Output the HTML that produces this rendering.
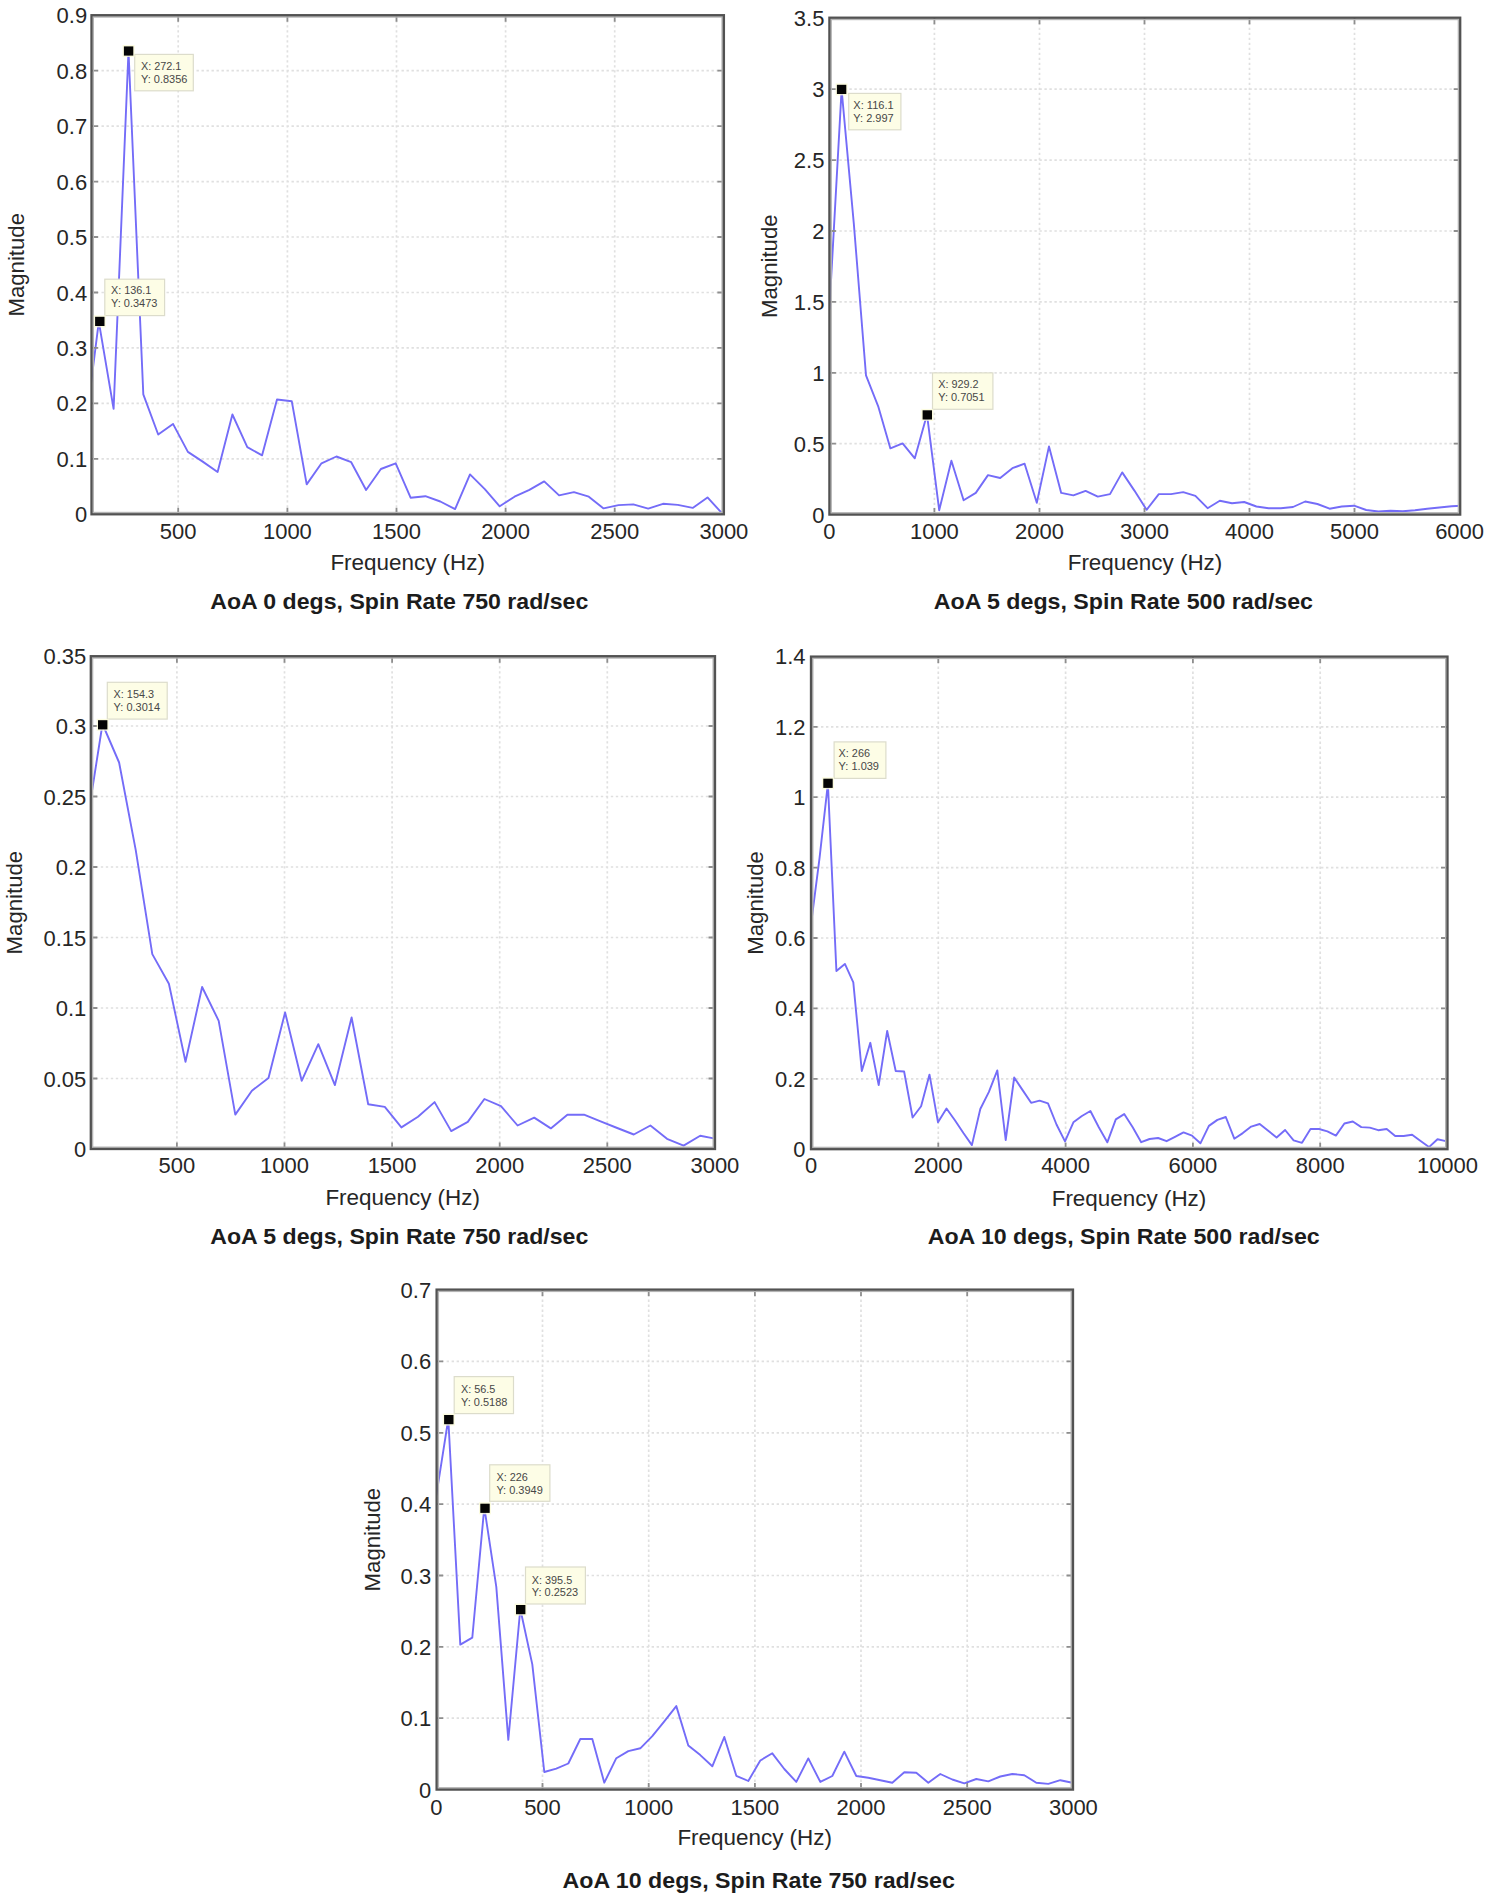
<!DOCTYPE html>
<html lang="en"><head><meta charset="utf-8"><title>FFT magnitude plots</title>
<style>html,body{margin:0;padding:0;background:#fff}body{width:1491px;height:1900px;overflow:hidden}svg{display:block;font-family:"Liberation Sans",Arial,Helvetica,sans-serif}</style></head><body>
<svg width="1491" height="1900" viewBox="0 0 1491 1900" fill="#262626">
<rect width="1491" height="1900" fill="#fff"/>
<g id="chart1">
<clipPath id="cp1"><rect x="91.5" y="15.2" width="632.4" height="499.1"/></clipPath>
<path d="M178.2 15.2V514.3M287.4 15.2V514.3M396.5 15.2V514.3M505.6 15.2V514.3M614.7 15.2V514.3M91.5 458.8H723.9M91.5 403.4H723.9M91.5 347.9H723.9M91.5 292.5H723.9M91.5 237.0H723.9M91.5 181.6H723.9M91.5 126.1H723.9M91.5 70.7H723.9" fill="none" stroke="#e0e0e0" stroke-width="1.7" stroke-dasharray="2.4 2.6"/>
<polyline points="83.9,440.0 98.8,321.7 113.6,408.9 128.5,51.0 143.3,394.3 158.2,434.5 173.0,423.9 187.9,451.9 202.7,461.6 217.6,472.0 232.4,414.5 247.3,447.2 262.1,455.3 277.0,399.5 291.8,401.3 306.7,484.4 321.5,463.3 336.4,456.5 351.2,462.2 366.1,490.0 380.9,469.0 395.7,463.3 410.6,497.7 425.4,496.2 440.3,501.5 455.1,509.1 470.0,474.4 484.8,489.2 499.7,506.3 514.5,496.7 529.4,489.9 544.2,481.4 559.1,495.4 573.9,492.1 588.8,496.7 603.6,508.4 618.5,505.1 633.3,504.4 648.2,508.6 663.0,503.8 677.8,504.9 692.7,507.9 707.5,497.4 722.4,513.7" fill="none" stroke="#746cf8" stroke-width="1.9" stroke-linejoin="round" clip-path="url(#cp1)"/>
<path d="M178.2 514.3v-6.5M178.2 15.2v6.5M287.4 514.3v-6.5M287.4 15.2v6.5M396.5 514.3v-6.5M396.5 15.2v6.5M505.6 514.3v-6.5M505.6 15.2v6.5M614.7 514.3v-6.5M614.7 15.2v6.5M91.5 458.8h6.5M723.9 458.8h-6.5M91.5 403.4h6.5M723.9 403.4h-6.5M91.5 347.9h6.5M723.9 347.9h-6.5M91.5 292.5h6.5M723.9 292.5h-6.5M91.5 237.0h6.5M723.9 237.0h-6.5M91.5 181.6h6.5M723.9 181.6h-6.5M91.5 126.1h6.5M723.9 126.1h-6.5M91.5 70.7h6.5M723.9 70.7h-6.5" fill="none" stroke="#8e8e8e" stroke-width="1.8"/>
<rect x="93.2" y="16.9" width="629.0" height="495.7" fill="none" stroke="#b4b4b4" stroke-width="1.6"/>
<rect x="91.5" y="15.2" width="632.4" height="499.1" fill="none" stroke="#525252" stroke-width="2.3"/>
<text x="178.2" y="538.5" font-size="22.0" text-anchor="middle" textLength="36.7" lengthAdjust="spacingAndGlyphs">500</text>
<text x="287.4" y="538.5" font-size="22.0" text-anchor="middle" textLength="48.9" lengthAdjust="spacingAndGlyphs">1000</text>
<text x="396.5" y="538.5" font-size="22.0" text-anchor="middle" textLength="48.9" lengthAdjust="spacingAndGlyphs">1500</text>
<text x="505.6" y="538.5" font-size="22.0" text-anchor="middle" textLength="48.9" lengthAdjust="spacingAndGlyphs">2000</text>
<text x="614.7" y="538.5" font-size="22.0" text-anchor="middle" textLength="48.9" lengthAdjust="spacingAndGlyphs">2500</text>
<text x="723.9" y="538.5" font-size="22.0" text-anchor="middle" textLength="48.9" lengthAdjust="spacingAndGlyphs">3000</text>
<text x="87.2" y="522.3" font-size="22.0" text-anchor="end" textLength="12.2" lengthAdjust="spacingAndGlyphs">0</text>
<text x="87.2" y="466.8" font-size="22.0" text-anchor="end" textLength="30.6" lengthAdjust="spacingAndGlyphs">0.1</text>
<text x="87.2" y="411.4" font-size="22.0" text-anchor="end" textLength="30.6" lengthAdjust="spacingAndGlyphs">0.2</text>
<text x="87.2" y="355.9" font-size="22.0" text-anchor="end" textLength="30.6" lengthAdjust="spacingAndGlyphs">0.3</text>
<text x="87.2" y="300.5" font-size="22.0" text-anchor="end" textLength="30.6" lengthAdjust="spacingAndGlyphs">0.4</text>
<text x="87.2" y="245.0" font-size="22.0" text-anchor="end" textLength="30.6" lengthAdjust="spacingAndGlyphs">0.5</text>
<text x="87.2" y="189.6" font-size="22.0" text-anchor="end" textLength="30.6" lengthAdjust="spacingAndGlyphs">0.6</text>
<text x="87.2" y="134.1" font-size="22.0" text-anchor="end" textLength="30.6" lengthAdjust="spacingAndGlyphs">0.7</text>
<text x="87.2" y="78.7" font-size="22.0" text-anchor="end" textLength="30.6" lengthAdjust="spacingAndGlyphs">0.8</text>
<text x="87.2" y="23.2" font-size="22.0" text-anchor="end" textLength="30.6" lengthAdjust="spacingAndGlyphs">0.9</text>
<text x="407.7" y="569.6" font-size="21.2" text-anchor="middle" textLength="154.6" lengthAdjust="spacingAndGlyphs">Frequency (Hz)</text>
<text transform="translate(23.7 264.8) rotate(-90)" font-size="22" text-anchor="middle" textLength="103.6" lengthAdjust="spacingAndGlyphs">Magnitude</text>
<rect x="134.7" y="54.4" width="58.6" height="36.4" fill="#fdfde6" stroke="#dcdccb" stroke-width="1.2"/>
<text x="141.0" y="70.0" font-size="10.8" textLength="40.4" lengthAdjust="spacingAndGlyphs" fill="#474747">X: 272.1</text>
<text x="141.0" y="82.8" font-size="10.8" textLength="46.4" lengthAdjust="spacingAndGlyphs" fill="#474747">Y: 0.8356</text>
<rect x="122.6" y="45.0" width="12" height="12" fill="#fbfbd8" opacity="0.8"/>
<rect x="123.9" y="46.4" width="9.4" height="9.2" fill="#050505"/>
<rect x="104.8" y="279.2" width="59.8" height="36.4" fill="#fdfde6" stroke="#dcdccb" stroke-width="1.2"/>
<text x="111.0" y="294.1" font-size="10.8" textLength="40.4" lengthAdjust="spacingAndGlyphs" fill="#474747">X: 136.1</text>
<text x="111.0" y="307.0" font-size="10.8" textLength="46.4" lengthAdjust="spacingAndGlyphs" fill="#474747">Y: 0.3473</text>
<rect x="93.8" y="315.4" width="12" height="12" fill="#fbfbd8" opacity="0.8"/>
<rect x="95.1" y="316.8" width="9.4" height="9.2" fill="#050505"/>
<text x="210.3" y="609.2" font-size="22.3" font-weight="bold" textLength="378.0" lengthAdjust="spacingAndGlyphs" fill="#1c1c1c">AoA 0 degs, Spin Rate 750 rad/sec</text>
</g>
<g id="chart2">
<clipPath id="cp2"><rect x="829.4" y="17.7" width="630.8" height="496.9"/></clipPath>
<path d="M934.4 17.7V514.6M1039.5 17.7V514.6M1144.5 17.7V514.6M1249.5 17.7V514.6M1354.5 17.7V514.6M829.4 443.7H1460.2M829.4 372.8H1460.2M829.4 301.9H1460.2M829.4 231.0H1460.2M829.4 160.1H1460.2M829.4 89.2H1460.2" fill="none" stroke="#e0e0e0" stroke-width="1.7" stroke-dasharray="2.4 2.6"/>
<polyline points="829.4,309.8 841.6,89.6 853.8,223.3 866.0,375.4 878.2,406.3 890.4,448.4 902.6,443.4 914.8,458.3 927.0,414.6 939.2,510.2 951.4,460.7 963.6,500.3 975.8,492.9 988.0,475.1 1000.2,478.0 1012.4,468.2 1024.6,463.7 1036.8,502.8 1049.0,446.4 1061.2,492.9 1073.4,495.4 1085.6,490.9 1097.8,496.6 1110.0,494.1 1122.2,472.4 1134.4,490.6 1146.6,509.8 1158.8,494.1 1171.0,494.1 1183.2,492.1 1195.4,495.8 1207.6,508.2 1219.8,500.8 1232.0,503.3 1244.2,502.0 1256.4,506.5 1268.6,508.2 1280.8,508.2 1293.0,507.0 1305.2,501.5 1317.4,504.0 1329.6,508.7 1341.8,506.5 1354.0,505.7 1366.2,510.0 1378.4,511.5 1390.6,510.7 1402.8,511.2 1415.0,510.2 1427.2,508.7 1439.4,507.5 1451.6,506.2 1463.8,505.6" fill="none" stroke="#746cf8" stroke-width="1.9" stroke-linejoin="round" clip-path="url(#cp2)"/>
<path d="M934.4 514.6v-6.5M934.4 17.7v6.5M1039.5 514.6v-6.5M1039.5 17.7v6.5M1144.5 514.6v-6.5M1144.5 17.7v6.5M1249.5 514.6v-6.5M1249.5 17.7v6.5M1354.5 514.6v-6.5M1354.5 17.7v6.5M829.4 443.7h6.5M1460.2 443.7h-6.5M829.4 372.8h6.5M1460.2 372.8h-6.5M829.4 301.9h6.5M1460.2 301.9h-6.5M829.4 231.0h6.5M1460.2 231.0h-6.5M829.4 160.1h6.5M1460.2 160.1h-6.5M829.4 89.2h6.5M1460.2 89.2h-6.5" fill="none" stroke="#8e8e8e" stroke-width="1.8"/>
<rect x="831.1" y="19.4" width="627.4" height="493.5" fill="none" stroke="#b4b4b4" stroke-width="1.6"/>
<rect x="829.4" y="17.7" width="630.8" height="496.9" fill="none" stroke="#525252" stroke-width="2.3"/>
<text x="829.4" y="539.0" font-size="22.0" text-anchor="middle" textLength="12.2" lengthAdjust="spacingAndGlyphs">0</text>
<text x="934.4" y="539.0" font-size="22.0" text-anchor="middle" textLength="48.9" lengthAdjust="spacingAndGlyphs">1000</text>
<text x="1039.5" y="539.0" font-size="22.0" text-anchor="middle" textLength="48.9" lengthAdjust="spacingAndGlyphs">2000</text>
<text x="1144.5" y="539.0" font-size="22.0" text-anchor="middle" textLength="48.9" lengthAdjust="spacingAndGlyphs">3000</text>
<text x="1249.5" y="539.0" font-size="22.0" text-anchor="middle" textLength="48.9" lengthAdjust="spacingAndGlyphs">4000</text>
<text x="1354.5" y="539.0" font-size="22.0" text-anchor="middle" textLength="48.9" lengthAdjust="spacingAndGlyphs">5000</text>
<text x="1459.6" y="539.0" font-size="22.0" text-anchor="middle" textLength="48.9" lengthAdjust="spacingAndGlyphs">6000</text>
<text x="824.4" y="522.6" font-size="22.0" text-anchor="end" textLength="12.2" lengthAdjust="spacingAndGlyphs">0</text>
<text x="824.4" y="451.7" font-size="22.0" text-anchor="end" textLength="30.6" lengthAdjust="spacingAndGlyphs">0.5</text>
<text x="824.4" y="380.8" font-size="22.0" text-anchor="end" textLength="12.2" lengthAdjust="spacingAndGlyphs">1</text>
<text x="824.4" y="309.9" font-size="22.0" text-anchor="end" textLength="30.6" lengthAdjust="spacingAndGlyphs">1.5</text>
<text x="824.4" y="239.0" font-size="22.0" text-anchor="end" textLength="12.2" lengthAdjust="spacingAndGlyphs">2</text>
<text x="824.4" y="168.1" font-size="22.0" text-anchor="end" textLength="30.6" lengthAdjust="spacingAndGlyphs">2.5</text>
<text x="824.4" y="97.2" font-size="22.0" text-anchor="end" textLength="12.2" lengthAdjust="spacingAndGlyphs">3</text>
<text x="824.4" y="26.3" font-size="22.0" text-anchor="end" textLength="30.6" lengthAdjust="spacingAndGlyphs">3.5</text>
<text x="1145.0" y="570.1" font-size="21.2" text-anchor="middle" textLength="154.6" lengthAdjust="spacingAndGlyphs">Frequency (Hz)</text>
<text transform="translate(776.5 266.2) rotate(-90)" font-size="22" text-anchor="middle" textLength="103.6" lengthAdjust="spacingAndGlyphs">Magnitude</text>
<rect x="848.7" y="93.4" width="52.2" height="36.4" fill="#fdfde6" stroke="#dcdccb" stroke-width="1.2"/>
<text x="853.3" y="108.9" font-size="10.8" textLength="40.4" lengthAdjust="spacingAndGlyphs" fill="#474747">X: 116.1</text>
<text x="853.3" y="121.6" font-size="10.8" textLength="40.4" lengthAdjust="spacingAndGlyphs" fill="#474747">Y: 2.997</text>
<rect x="835.6" y="83.4" width="12" height="12" fill="#fbfbd8" opacity="0.8"/>
<rect x="836.9" y="84.8" width="9.4" height="9.2" fill="#050505"/>
<rect x="932.5" y="372.9" width="60.4" height="36.4" fill="#fdfde6" stroke="#dcdccb" stroke-width="1.2"/>
<text x="938.2" y="388.0" font-size="10.8" textLength="40.4" lengthAdjust="spacingAndGlyphs" fill="#474747">X: 929.2</text>
<text x="938.2" y="400.8" font-size="10.8" textLength="46.4" lengthAdjust="spacingAndGlyphs" fill="#474747">Y: 0.7051</text>
<rect x="921.3" y="408.9" width="12" height="12" fill="#fbfbd8" opacity="0.8"/>
<rect x="922.6" y="410.3" width="9.4" height="9.2" fill="#050505"/>
<text x="933.8" y="609.2" font-size="22.3" font-weight="bold" textLength="379.2" lengthAdjust="spacingAndGlyphs" fill="#1c1c1c">AoA 5 degs, Spin Rate 500 rad/sec</text>
</g>
<g id="chart3">
<clipPath id="cp3"><rect x="90.8" y="656.2" width="624.2" height="492.8"/></clipPath>
<path d="M176.9 656.2V1149.0M284.5 656.2V1149.0M392.1 656.2V1149.0M499.7 656.2V1149.0M607.3 656.2V1149.0M90.8 1078.5H715.0M90.8 1008.0H715.0M90.8 937.5H715.0M90.8 867.0H715.0M90.8 796.5H715.0M90.8 726.0H715.0" fill="none" stroke="#e0e0e0" stroke-width="1.7" stroke-dasharray="2.4 2.6"/>
<polyline points="85.9,830.0 102.5,724.0 119.1,762.5 135.7,849.9 152.3,954.1 168.9,983.7 185.5,1061.7 202.1,987.0 218.7,1020.8 235.3,1114.6 251.9,1090.7 268.5,1078.0 285.1,1012.4 301.7,1080.8 318.3,1044.2 334.9,1085.1 351.6,1017.5 368.2,1104.2 384.8,1106.9 401.4,1127.4 418.0,1116.8 434.6,1102.1 451.2,1131.1 467.8,1121.9 484.4,1099.0 501.0,1106.2 517.6,1125.5 534.2,1117.6 550.8,1128.4 567.4,1114.7 584.0,1114.7 600.6,1121.4 617.2,1128.0 633.8,1134.5 650.4,1125.5 667.0,1138.8 683.6,1145.6 700.2,1135.7 716.8,1139.0" fill="none" stroke="#746cf8" stroke-width="1.9" stroke-linejoin="round" clip-path="url(#cp3)"/>
<path d="M176.9 1149.0v-6.5M176.9 656.2v6.5M284.5 1149.0v-6.5M284.5 656.2v6.5M392.1 1149.0v-6.5M392.1 656.2v6.5M499.7 1149.0v-6.5M499.7 656.2v6.5M607.3 1149.0v-6.5M607.3 656.2v6.5M90.8 1078.5h6.5M715.0 1078.5h-6.5M90.8 1008.0h6.5M715.0 1008.0h-6.5M90.8 937.5h6.5M715.0 937.5h-6.5M90.8 867.0h6.5M715.0 867.0h-6.5M90.8 796.5h6.5M715.0 796.5h-6.5M90.8 726.0h6.5M715.0 726.0h-6.5" fill="none" stroke="#8e8e8e" stroke-width="1.8"/>
<rect x="92.5" y="657.9" width="620.8" height="489.4" fill="none" stroke="#b4b4b4" stroke-width="1.6"/>
<rect x="90.8" y="656.2" width="624.2" height="492.8" fill="none" stroke="#525252" stroke-width="2.3"/>
<text x="176.9" y="1172.6" font-size="22.0" text-anchor="middle" textLength="36.7" lengthAdjust="spacingAndGlyphs">500</text>
<text x="284.5" y="1172.6" font-size="22.0" text-anchor="middle" textLength="48.9" lengthAdjust="spacingAndGlyphs">1000</text>
<text x="392.1" y="1172.6" font-size="22.0" text-anchor="middle" textLength="48.9" lengthAdjust="spacingAndGlyphs">1500</text>
<text x="499.7" y="1172.6" font-size="22.0" text-anchor="middle" textLength="48.9" lengthAdjust="spacingAndGlyphs">2000</text>
<text x="607.3" y="1172.6" font-size="22.0" text-anchor="middle" textLength="48.9" lengthAdjust="spacingAndGlyphs">2500</text>
<text x="714.9" y="1172.6" font-size="22.0" text-anchor="middle" textLength="48.9" lengthAdjust="spacingAndGlyphs">3000</text>
<text x="86.3" y="1157.0" font-size="22.0" text-anchor="end" textLength="12.2" lengthAdjust="spacingAndGlyphs">0</text>
<text x="86.3" y="1086.5" font-size="22.0" text-anchor="end" textLength="42.8" lengthAdjust="spacingAndGlyphs">0.05</text>
<text x="86.3" y="1016.0" font-size="22.0" text-anchor="end" textLength="30.6" lengthAdjust="spacingAndGlyphs">0.1</text>
<text x="86.3" y="945.5" font-size="22.0" text-anchor="end" textLength="42.8" lengthAdjust="spacingAndGlyphs">0.15</text>
<text x="86.3" y="875.0" font-size="22.0" text-anchor="end" textLength="30.6" lengthAdjust="spacingAndGlyphs">0.2</text>
<text x="86.3" y="804.5" font-size="22.0" text-anchor="end" textLength="42.8" lengthAdjust="spacingAndGlyphs">0.25</text>
<text x="86.3" y="734.0" font-size="22.0" text-anchor="end" textLength="30.6" lengthAdjust="spacingAndGlyphs">0.3</text>
<text x="86.3" y="663.5" font-size="22.0" text-anchor="end" textLength="42.8" lengthAdjust="spacingAndGlyphs">0.35</text>
<text x="402.7" y="1205.0" font-size="21.2" text-anchor="middle" textLength="154.6" lengthAdjust="spacingAndGlyphs">Frequency (Hz)</text>
<text transform="translate(21.5 902.6) rotate(-90)" font-size="22" text-anchor="middle" textLength="103.6" lengthAdjust="spacingAndGlyphs">Magnitude</text>
<rect x="107.3" y="682.3" width="59.9" height="36.8" fill="#fdfde6" stroke="#dcdccb" stroke-width="1.2"/>
<text x="113.6" y="697.9" font-size="10.8" textLength="40.4" lengthAdjust="spacingAndGlyphs" fill="#474747">X: 154.3</text>
<text x="113.6" y="710.7" font-size="10.8" textLength="46.4" lengthAdjust="spacingAndGlyphs" fill="#474747">Y: 0.3014</text>
<rect x="96.7" y="718.8" width="12" height="12" fill="#fbfbd8" opacity="0.8"/>
<rect x="98.0" y="720.2" width="9.4" height="9.2" fill="#050505"/>
<text x="210.3" y="1244.2" font-size="22.3" font-weight="bold" textLength="378.0" lengthAdjust="spacingAndGlyphs" fill="#1c1c1c">AoA 5 degs, Spin Rate 750 rad/sec</text>
</g>
<g id="chart4">
<clipPath id="cp4"><rect x="811.0" y="656.6" width="636.5" height="492.6"/></clipPath>
<path d="M938.3 656.6V1149.2M1065.6 656.6V1149.2M1192.9 656.6V1149.2M1320.2 656.6V1149.2M811.0 1078.8H1447.5M811.0 1008.4H1447.5M811.0 938.0H1447.5M811.0 867.6H1447.5M811.0 797.2H1447.5M811.0 726.8H1447.5" fill="none" stroke="#e0e0e0" stroke-width="1.7" stroke-dasharray="2.4 2.6"/>
<polyline points="811.0,924.5 819.5,858.3 827.9,783.6 836.4,971.0 844.9,963.9 853.3,982.3 861.8,1071.0 870.3,1042.8 878.7,1085.1 887.2,1031.0 895.7,1071.0 904.1,1071.5 912.6,1117.5 921.1,1106.2 929.5,1074.6 938.0,1122.3 946.5,1108.5 954.9,1120.3 963.4,1133.0 971.9,1145.1 980.3,1109.0 988.8,1092.1 997.3,1070.4 1005.7,1140.0 1014.2,1077.5 1022.6,1090.1 1031.1,1102.8 1039.6,1100.6 1048.0,1103.4 1056.5,1124.5 1065.0,1141.4 1073.4,1122.3 1081.9,1116.0 1090.4,1111.0 1098.8,1127.3 1107.3,1142.3 1115.8,1119.4 1124.2,1114.1 1132.7,1127.3 1141.2,1142.2 1149.6,1139.0 1158.1,1138.0 1166.6,1141.2 1175.0,1136.8 1183.5,1132.4 1192.0,1135.6 1200.4,1143.3 1208.9,1125.9 1217.4,1119.9 1225.8,1117.0 1234.3,1138.7 1242.8,1133.1 1251.2,1126.6 1259.7,1124.0 1268.2,1130.7 1276.6,1137.5 1285.1,1130.0 1293.6,1140.4 1302.0,1142.8 1310.5,1129.0 1319.0,1129.0 1327.4,1131.4 1335.9,1135.6 1344.4,1123.5 1352.8,1121.5 1361.3,1127.1 1369.8,1127.6 1378.2,1130.2 1386.7,1129.0 1395.2,1136.0 1403.6,1136.0 1412.1,1134.8 1420.6,1141.1 1429.0,1147.1 1437.5,1139.2 1445.9,1141.1" fill="none" stroke="#746cf8" stroke-width="1.9" stroke-linejoin="round" clip-path="url(#cp4)"/>
<path d="M938.3 1149.2v-6.5M938.3 656.6v6.5M1065.6 1149.2v-6.5M1065.6 656.6v6.5M1192.9 1149.2v-6.5M1192.9 656.6v6.5M1320.2 1149.2v-6.5M1320.2 656.6v6.5M811.0 1078.8h6.5M1447.5 1078.8h-6.5M811.0 1008.4h6.5M1447.5 1008.4h-6.5M811.0 938.0h6.5M1447.5 938.0h-6.5M811.0 867.6h6.5M1447.5 867.6h-6.5M811.0 797.2h6.5M1447.5 797.2h-6.5M811.0 726.8h6.5M1447.5 726.8h-6.5" fill="none" stroke="#8e8e8e" stroke-width="1.8"/>
<rect x="812.7" y="658.3" width="633.1" height="489.2" fill="none" stroke="#b4b4b4" stroke-width="1.6"/>
<rect x="811.0" y="656.6" width="636.5" height="492.6" fill="none" stroke="#525252" stroke-width="2.3"/>
<text x="811.0" y="1173.4" font-size="22.0" text-anchor="middle" textLength="12.2" lengthAdjust="spacingAndGlyphs">0</text>
<text x="938.3" y="1173.4" font-size="22.0" text-anchor="middle" textLength="48.9" lengthAdjust="spacingAndGlyphs">2000</text>
<text x="1065.6" y="1173.4" font-size="22.0" text-anchor="middle" textLength="48.9" lengthAdjust="spacingAndGlyphs">4000</text>
<text x="1192.9" y="1173.4" font-size="22.0" text-anchor="middle" textLength="48.9" lengthAdjust="spacingAndGlyphs">6000</text>
<text x="1320.2" y="1173.4" font-size="22.0" text-anchor="middle" textLength="48.9" lengthAdjust="spacingAndGlyphs">8000</text>
<text x="1447.5" y="1173.4" font-size="22.0" text-anchor="middle" textLength="61.2" lengthAdjust="spacingAndGlyphs">10000</text>
<text x="805.5" y="1157.2" font-size="22.0" text-anchor="end" textLength="12.2" lengthAdjust="spacingAndGlyphs">0</text>
<text x="805.5" y="1086.8" font-size="22.0" text-anchor="end" textLength="30.6" lengthAdjust="spacingAndGlyphs">0.2</text>
<text x="805.5" y="1016.4" font-size="22.0" text-anchor="end" textLength="30.6" lengthAdjust="spacingAndGlyphs">0.4</text>
<text x="805.5" y="946.0" font-size="22.0" text-anchor="end" textLength="30.6" lengthAdjust="spacingAndGlyphs">0.6</text>
<text x="805.5" y="875.6" font-size="22.0" text-anchor="end" textLength="30.6" lengthAdjust="spacingAndGlyphs">0.8</text>
<text x="805.5" y="805.2" font-size="22.0" text-anchor="end" textLength="12.2" lengthAdjust="spacingAndGlyphs">1</text>
<text x="805.5" y="734.8" font-size="22.0" text-anchor="end" textLength="30.6" lengthAdjust="spacingAndGlyphs">1.2</text>
<text x="805.5" y="664.4" font-size="22.0" text-anchor="end" textLength="30.6" lengthAdjust="spacingAndGlyphs">1.4</text>
<text x="1129.0" y="1205.5" font-size="21.2" text-anchor="middle" textLength="154.6" lengthAdjust="spacingAndGlyphs">Frequency (Hz)</text>
<text transform="translate(762.9 902.9) rotate(-90)" font-size="22" text-anchor="middle" textLength="103.6" lengthAdjust="spacingAndGlyphs">Magnitude</text>
<rect x="834.1" y="741.9" width="51.8" height="36.5" fill="#fdfde6" stroke="#dcdccb" stroke-width="1.2"/>
<text x="838.6" y="757.3" font-size="10.8" textLength="31.4" lengthAdjust="spacingAndGlyphs" fill="#474747">X: 266</text>
<text x="838.6" y="769.8" font-size="10.8" textLength="40.4" lengthAdjust="spacingAndGlyphs" fill="#474747">Y: 1.039</text>
<rect x="822.0" y="777.3" width="12" height="12" fill="#fbfbd8" opacity="0.8"/>
<rect x="823.3" y="778.7" width="9.4" height="9.2" fill="#050505"/>
<text x="927.7" y="1244.2" font-size="22.3" font-weight="bold" textLength="392.0" lengthAdjust="spacingAndGlyphs" fill="#1c1c1c">AoA 10 degs, Spin Rate 500 rad/sec</text>
</g>
<g id="chart5">
<clipPath id="cp5"><rect x="436.6" y="1289.6" width="636.4" height="500.0"/></clipPath>
<path d="M542.5 1289.6V1789.6M648.7 1289.6V1789.6M754.9 1289.6V1789.6M861.0 1289.6V1789.6M967.2 1289.6V1789.6M436.6 1718.2H1073.0M436.6 1646.9H1073.0M436.6 1575.5H1073.0M436.6 1504.2H1073.0M436.6 1432.8H1073.0M436.6 1361.4H1073.0" fill="none" stroke="#e0e0e0" stroke-width="1.7" stroke-dasharray="2.4 2.6"/>
<polyline points="436.3,1495.4 448.3,1419.0 460.3,1644.6 472.3,1637.6 484.3,1507.3 496.3,1586.9 508.3,1739.9 520.3,1609.0 532.3,1664.4 544.3,1772.0 556.3,1768.6 568.3,1763.5 580.3,1739.0 592.3,1739.0 604.3,1782.7 616.3,1758.2 628.3,1751.1 640.3,1748.3 652.3,1736.2 664.3,1721.3 676.3,1706.1 688.3,1745.5 700.3,1755.1 712.3,1766.3 724.3,1737.0 736.3,1775.8 748.3,1781.0 760.3,1760.5 772.3,1753.3 784.3,1769.0 796.3,1781.9 808.3,1758.4 820.3,1781.9 832.3,1776.0 844.3,1751.7 856.3,1776.0 868.3,1777.7 880.3,1780.2 892.3,1782.7 904.3,1772.3 916.3,1772.8 928.3,1782.7 940.3,1774.0 952.3,1779.5 964.3,1783.4 976.3,1779.0 988.3,1781.4 1000.3,1776.5 1012.3,1774.0 1024.3,1775.2 1036.3,1782.7 1048.3,1783.9 1060.3,1780.2 1072.3,1782.7" fill="none" stroke="#746cf8" stroke-width="1.9" stroke-linejoin="round" clip-path="url(#cp5)"/>
<path d="M542.5 1789.6v-6.5M542.5 1289.6v6.5M648.7 1789.6v-6.5M648.7 1289.6v6.5M754.9 1789.6v-6.5M754.9 1289.6v6.5M861.0 1789.6v-6.5M861.0 1289.6v6.5M967.2 1789.6v-6.5M967.2 1289.6v6.5M436.6 1718.2h6.5M1073.0 1718.2h-6.5M436.6 1646.9h6.5M1073.0 1646.9h-6.5M436.6 1575.5h6.5M1073.0 1575.5h-6.5M436.6 1504.2h6.5M1073.0 1504.2h-6.5M436.6 1432.8h6.5M1073.0 1432.8h-6.5M436.6 1361.4h6.5M1073.0 1361.4h-6.5" fill="none" stroke="#8e8e8e" stroke-width="1.8"/>
<rect x="438.3" y="1291.3" width="633.0" height="496.6" fill="none" stroke="#b4b4b4" stroke-width="1.6"/>
<rect x="436.6" y="1289.6" width="636.4" height="500.0" fill="none" stroke="#525252" stroke-width="2.3"/>
<text x="436.3" y="1814.8" font-size="22.0" text-anchor="middle" textLength="12.2" lengthAdjust="spacingAndGlyphs">0</text>
<text x="542.5" y="1814.8" font-size="22.0" text-anchor="middle" textLength="36.7" lengthAdjust="spacingAndGlyphs">500</text>
<text x="648.7" y="1814.8" font-size="22.0" text-anchor="middle" textLength="48.9" lengthAdjust="spacingAndGlyphs">1000</text>
<text x="754.9" y="1814.8" font-size="22.0" text-anchor="middle" textLength="48.9" lengthAdjust="spacingAndGlyphs">1500</text>
<text x="861.0" y="1814.8" font-size="22.0" text-anchor="middle" textLength="48.9" lengthAdjust="spacingAndGlyphs">2000</text>
<text x="967.2" y="1814.8" font-size="22.0" text-anchor="middle" textLength="48.9" lengthAdjust="spacingAndGlyphs">2500</text>
<text x="1073.4" y="1814.8" font-size="22.0" text-anchor="middle" textLength="48.9" lengthAdjust="spacingAndGlyphs">3000</text>
<text x="431.2" y="1797.6" font-size="22.0" text-anchor="end" textLength="12.2" lengthAdjust="spacingAndGlyphs">0</text>
<text x="431.2" y="1726.2" font-size="22.0" text-anchor="end" textLength="30.6" lengthAdjust="spacingAndGlyphs">0.1</text>
<text x="431.2" y="1654.9" font-size="22.0" text-anchor="end" textLength="30.6" lengthAdjust="spacingAndGlyphs">0.2</text>
<text x="431.2" y="1583.5" font-size="22.0" text-anchor="end" textLength="30.6" lengthAdjust="spacingAndGlyphs">0.3</text>
<text x="431.2" y="1512.2" font-size="22.0" text-anchor="end" textLength="30.6" lengthAdjust="spacingAndGlyphs">0.4</text>
<text x="431.2" y="1440.8" font-size="22.0" text-anchor="end" textLength="30.6" lengthAdjust="spacingAndGlyphs">0.5</text>
<text x="431.2" y="1369.4" font-size="22.0" text-anchor="end" textLength="30.6" lengthAdjust="spacingAndGlyphs">0.6</text>
<text x="431.2" y="1298.1" font-size="22.0" text-anchor="end" textLength="30.6" lengthAdjust="spacingAndGlyphs">0.7</text>
<text x="754.7" y="1845.2" font-size="21.2" text-anchor="middle" textLength="154.6" lengthAdjust="spacingAndGlyphs">Frequency (Hz)</text>
<text transform="translate(380.2 1539.6) rotate(-90)" font-size="22" text-anchor="middle" textLength="103.6" lengthAdjust="spacingAndGlyphs">Magnitude</text>
<rect x="454.2" y="1376.6" width="59.3" height="37.0" fill="#fdfde6" stroke="#dcdccb" stroke-width="1.2"/>
<text x="461.0" y="1393.0" font-size="10.8" textLength="34.4" lengthAdjust="spacingAndGlyphs" fill="#474747">X: 56.5</text>
<text x="461.0" y="1405.6" font-size="10.8" textLength="46.4" lengthAdjust="spacingAndGlyphs" fill="#474747">Y: 0.5188</text>
<rect x="442.8" y="1413.6" width="12" height="12" fill="#fbfbd8" opacity="0.8"/>
<rect x="444.1" y="1415.0" width="9.4" height="9.2" fill="#050505"/>
<rect x="489.7" y="1464.8" width="60.2" height="36.5" fill="#fdfde6" stroke="#dcdccb" stroke-width="1.2"/>
<text x="496.4" y="1480.9" font-size="10.8" textLength="31.4" lengthAdjust="spacingAndGlyphs" fill="#474747">X: 226</text>
<text x="496.4" y="1493.9" font-size="10.8" textLength="46.4" lengthAdjust="spacingAndGlyphs" fill="#474747">Y: 0.3949</text>
<rect x="479.0" y="1502.3" width="12" height="12" fill="#fbfbd8" opacity="0.8"/>
<rect x="480.3" y="1503.7" width="9.4" height="9.2" fill="#050505"/>
<rect x="525.5" y="1567.0" width="59.9" height="37.0" fill="#fdfde6" stroke="#dcdccb" stroke-width="1.2"/>
<text x="531.8" y="1583.5" font-size="10.8" textLength="40.4" lengthAdjust="spacingAndGlyphs" fill="#474747">X: 395.5</text>
<text x="531.8" y="1596.2" font-size="10.8" textLength="46.4" lengthAdjust="spacingAndGlyphs" fill="#474747">Y: 0.2523</text>
<rect x="514.7" y="1603.6" width="12" height="12" fill="#fbfbd8" opacity="0.8"/>
<rect x="516.0" y="1605.0" width="9.4" height="9.2" fill="#050505"/>
<text x="562.6" y="1888.3" font-size="22.3" font-weight="bold" textLength="392.3" lengthAdjust="spacingAndGlyphs" fill="#1c1c1c">AoA 10 degs, Spin Rate 750 rad/sec</text>
</g>
</svg></body></html>
